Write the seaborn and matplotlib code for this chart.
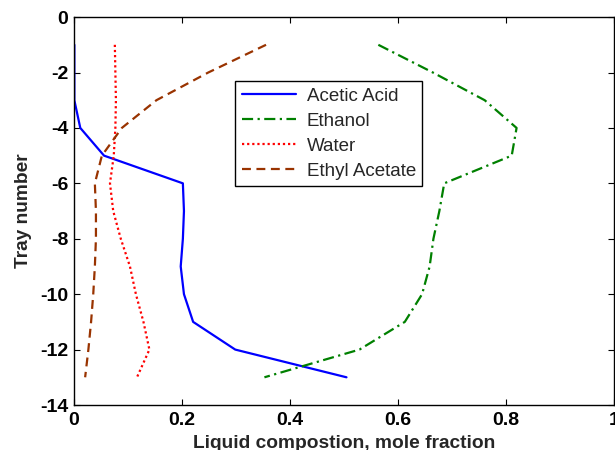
import numpy as np
import pandas as pd
import matplotlib
matplotlib.use("Agg")
import matplotlib.pyplot as plt
import seaborn as sns

trays = [-1, -2, -3, -4, -5, -6, -7, -8, -9, -10, -11, -12, -13]
acetic_acid = [0.001, 0.001, 0.001, 0.012, 0.056, 0.202, 0.204, 0.202, 0.198, 0.204, 0.221, 0.299, 0.505]
ethanol = [0.564, 0.665, 0.761, 0.820, 0.811, 0.686, 0.677, 0.666, 0.659, 0.645, 0.613, 0.529, 0.353]
water = [0.076, 0.077, 0.078, 0.077, 0.074, 0.067, 0.073, 0.087, 0.104, 0.115, 0.129, 0.140, 0.117]
ethyl_acetate = [0.356, 0.249, 0.153, 0.089, 0.052, 0.039, 0.041, 0.041, 0.039, 0.036, 0.032, 0.027, 0.021]

names = ["Acetic Acid", "Ethanol", "Water", "Ethyl Acetate"]
series = [acetic_acid, ethanol, water, ethyl_acetate]
colors = ["#0000FF", "#008000", "#FF0000", "#993300"]
styles = ["-", (0, (5, 2, 1, 2)), (0, (1, 1.3)), (0, (4, 2.5))]

sns.set_theme(style="white")
plt.rcParams['font.family'] = ['Liberation Sans', 'DejaVu Sans']

fig = plt.figure(figsize=(6.15, 4.5), dpi=100)
ax = fig.add_axes([0.12, 0.1, 0.878, 0.862])

for name, vals, c, ls in zip(names, series, colors, styles):
    df = pd.DataFrame({"x": vals, "tray": trays})
    sns.lineplot(data=df, x="x", y="tray", sort=False, estimator=None,
                 color=c, linestyle=ls, linewidth=1.6, label=name, ax=ax)

ax.set_xlim(0, 1)
ax.set_ylim(-14, 0)
ax.set_xticks([0, 0.2, 0.4, 0.6, 0.8, 1])
ax.set_xticklabels(["0", "0.2", "0.4", "0.6", "0.8", "1"])
ax.set_yticks([0, -2, -4, -6, -8, -10, -12, -14])
ax.set_yticklabels(["0", "-2", "-4", "-6", "-8", "-10", "-12", "-14"])
for lab in ax.get_xticklabels() + ax.get_yticklabels():
    lab.set_fontweight("bold")
    lab.set_fontsize(14)
ax.tick_params(direction="in", length=4, width=0.8, top=True, right=True,
               bottom=True, left=True, colors="black")
ax.tick_params(axis="x", pad=5)
ax.tick_params(axis="y", pad=4)
for s in ax.spines.values():
    s.set_color("black")
    s.set_linewidth(1.0)

ax.set_xlabel("Liquid compostion, mole fraction", fontsize=13.8, fontweight="bold", labelpad=4)
ax.set_ylabel("Tray number", fontsize=13.8, fontweight="bold", labelpad=6)

leg = ax.legend(loc="upper left", bbox_to_anchor=(0.299, 0.835), fontsize=13.5,
                frameon=True, fancybox=False, framealpha=1, edgecolor="black",
                handlelength=2.9, borderpad=0.35, labelspacing=0.42, handletextpad=0.55,
                borderaxespad=0)
leg.get_frame().set_linewidth(1.0)

fig.savefig("out.png", dpi=100)
